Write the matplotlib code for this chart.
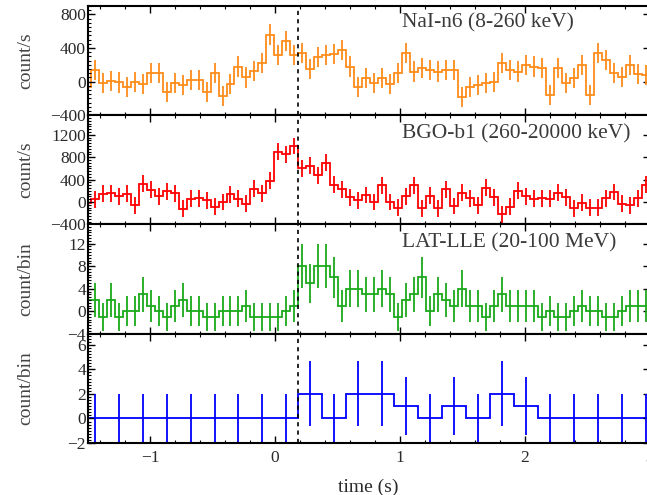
import numpy as np
import matplotlib
matplotlib.use("Agg")
import matplotlib.pyplot as plt
from matplotlib.ticker import MultipleLocator, FixedLocator

plt.rcParams['font.family'] = ['Liberation Serif', 'DejaVu Serif']
plt.rcParams['mathtext.fontset'] = 'stix'

# Light-curve binning (s)
T_FIRST_EDGE = -1.542
FINE_BIN = 0.064
COARSE_BIN = 0.192
T_MARK = 0.186

# NaI-n6 rate (count/s), 0.064 s bins
nai_rate = [-60,
            140, -20, 10, -10, -60, 0, -30, 100, 100, -120,
            -20, -40, 20, 20, -120, 100, -170, -30, 180, 50,
            130, 220, 560, 320, 480, 320, 340, 150, 290, 320,
            330, 380, 180, -60, 40, -20, 40, -30, 100, 340,
            120, 160, 140, 120, 140, 140, -180, -60, -40, -20,
            0, 220, 140, 120, 200, 180, 160, -160, 160, -20,
            40, 200, -160, 340, 260, 100, 60, 200, 90, 80]
nai_err = 120

# BGO-b1 rate (count/s), 0.064 s bins
bgo_rate = [-20,
            50, 150, 160, 100, 150, -60, 330, 220, 100, 190,
            160, -120, 60, 70, 30, -80, 0, 140, 60, -30,
            240, 160, 380, 900, 850, 1000, 600, 650, 480, 700,
            310, 230, 85, 30, 125, 0, 300, 0, -100, 100,
            300, -110, 115, -110, 230, -70, 170, 70, -60, 260,
            85, -215, -85, 200, 100, 60, 70, 60, 170, 85,
            -110, -10, -100, -100, 70, 180, -30, -60, 70, 310]
bgo_err = 150

# LAT-LLE counts per bin, 0.064 s bins
lle_counts = [2,
              2, -1, 2, -1, 0, 0, 3, 1, 0, -1,
              1, 2, 0, 0, -1, -1, 0, 0, 0, 1,
              -1, -1, -1, -1, 0, 1, 8, 5, 8, 8,
              6, 1, 4, 4, 3, 3, 4, 3, -1, 2,
              3, 6, 0, 3, 2, 1, 4, 1, 1, -1,
              1, 3, 1, 1, 1, 1, -1, 0, -1, -1,
              0, 1, 0, 0, -1, -1, 0, 1, 1, 1]
lle_bkg = 7.0

# LAT high-energy counts per bin, 0.192 s bins
lat_counts = [0, 0, 0, 0, 0, 0, 0, 0, 0,
              2, 0, 2, 2, 1, 0, 1, 0, 2, 1,
              0, 0, 0, 0, 0]
lat_bkg = 4.0

panel_labels = ["NaI-n6 (8-260 keV)", "BGO-b1 (260-20000 keV)", "LAT-LLE (20-100 MeV)", None]
y_labels = ["count/s", "count/s", "count/bin", "count/bin"]
y_limits = [(-400, 900), (-400, 1550), (-4, 15.4), (-2, 6.9)]
y_ticks = [[-400, 0, 400, 800], [-400, 0, 400, 800, 1200], [-4, 0, 4, 8, 12], [-2, 0, 2, 4, 6]]
y_minor = [50, 50, 0.5, 0.25]
colors = ["#ff8c1a", "#ff0000", "#1aaa1a", "#0000ff"]


def edges_for(n, width):
    return T_FIRST_EDGE + width * np.arange(n + 1)


series = []
v = np.array(nai_rate, float)
series.append((v, np.full_like(v, nai_err), edges_for(len(v), FINE_BIN)))
v = np.array(bgo_rate, float)
series.append((v, np.full_like(v, bgo_err), edges_for(len(v), FINE_BIN)))
v = np.array(lle_counts, float)
series.append((v, np.sqrt(v + lle_bkg), edges_for(len(v), FINE_BIN)))
v = np.array(lat_counts, float)
series.append((v, np.sqrt(lat_bkg + 1.5 * v), edges_for(len(v), COARSE_BIN)))

fig = plt.figure(figsize=(6.47, 4.95), dpi=100)
left, right = 88 / 647, 649.5 / 647
top, bottom = 1 - 6 / 495, 1 - 443 / 495
h = (top - bottom) / 4
axes = []
for i in range(4):
    ax = fig.add_axes([left, top - (i + 1) * h, right - left, h])
    axes.append(ax)

tick_color = "#2a2a2a"
for i, ax in enumerate(axes):
    vals, errs, edges = series[i]
    centers = 0.5 * (edges[:-1] + edges[1:])
    ax.stairs(vals, edges, color=colors[i], lw=1.3, baseline=None)
    ax.errorbar(centers, vals, yerr=errs, fmt="none", ecolor=colors[i],
                elinewidth=1.3, capsize=0)
    ax.axvline(T_MARK, color="black", lw=1.2, ls=(0, (2.5, 2.5)))
    ax.set_xlim(-1.5, 3.0)
    ax.set_ylim(*y_limits[i])
    ax.yaxis.set_major_locator(FixedLocator(y_ticks[i]))
    ax.yaxis.set_minor_locator(MultipleLocator(y_minor[i]))
    ax.xaxis.set_major_locator(MultipleLocator(1))
    ax.xaxis.set_minor_locator(MultipleLocator(0.2))
    ax.tick_params(which="both", direction="in", top=True, right=True,
                   labelsize=12.5, labelcolor=tick_color, pad=1.5)
    ax.tick_params(axis="x", which="both", pad=5)
    ax.tick_params(which="major", length=5, width=1.0)
    ax.tick_params(which="minor", length=2.5, width=0.8)
    for s in ax.spines.values():
        s.set_linewidth(1.5)
    ax.set_ylabel(y_labels[i], fontsize=14, color="#444444")
    ax.yaxis.set_label_coords(-0.096, 0.5)
    if i < 3:
        ax.tick_params(labelbottom=False)
    if panel_labels[i]:
        ax.text(0.559, 0.85 if i == 0 else 0.83, panel_labels[i],
                transform=ax.transAxes, fontsize=15.5, color="#3a3a3a",
                ha="left", va="center")

axes[-1].set_xlabel("time (s)", fontsize=14, color="#2a2a2a", labelpad=9)

fig.savefig("out.png", dpi=100)
